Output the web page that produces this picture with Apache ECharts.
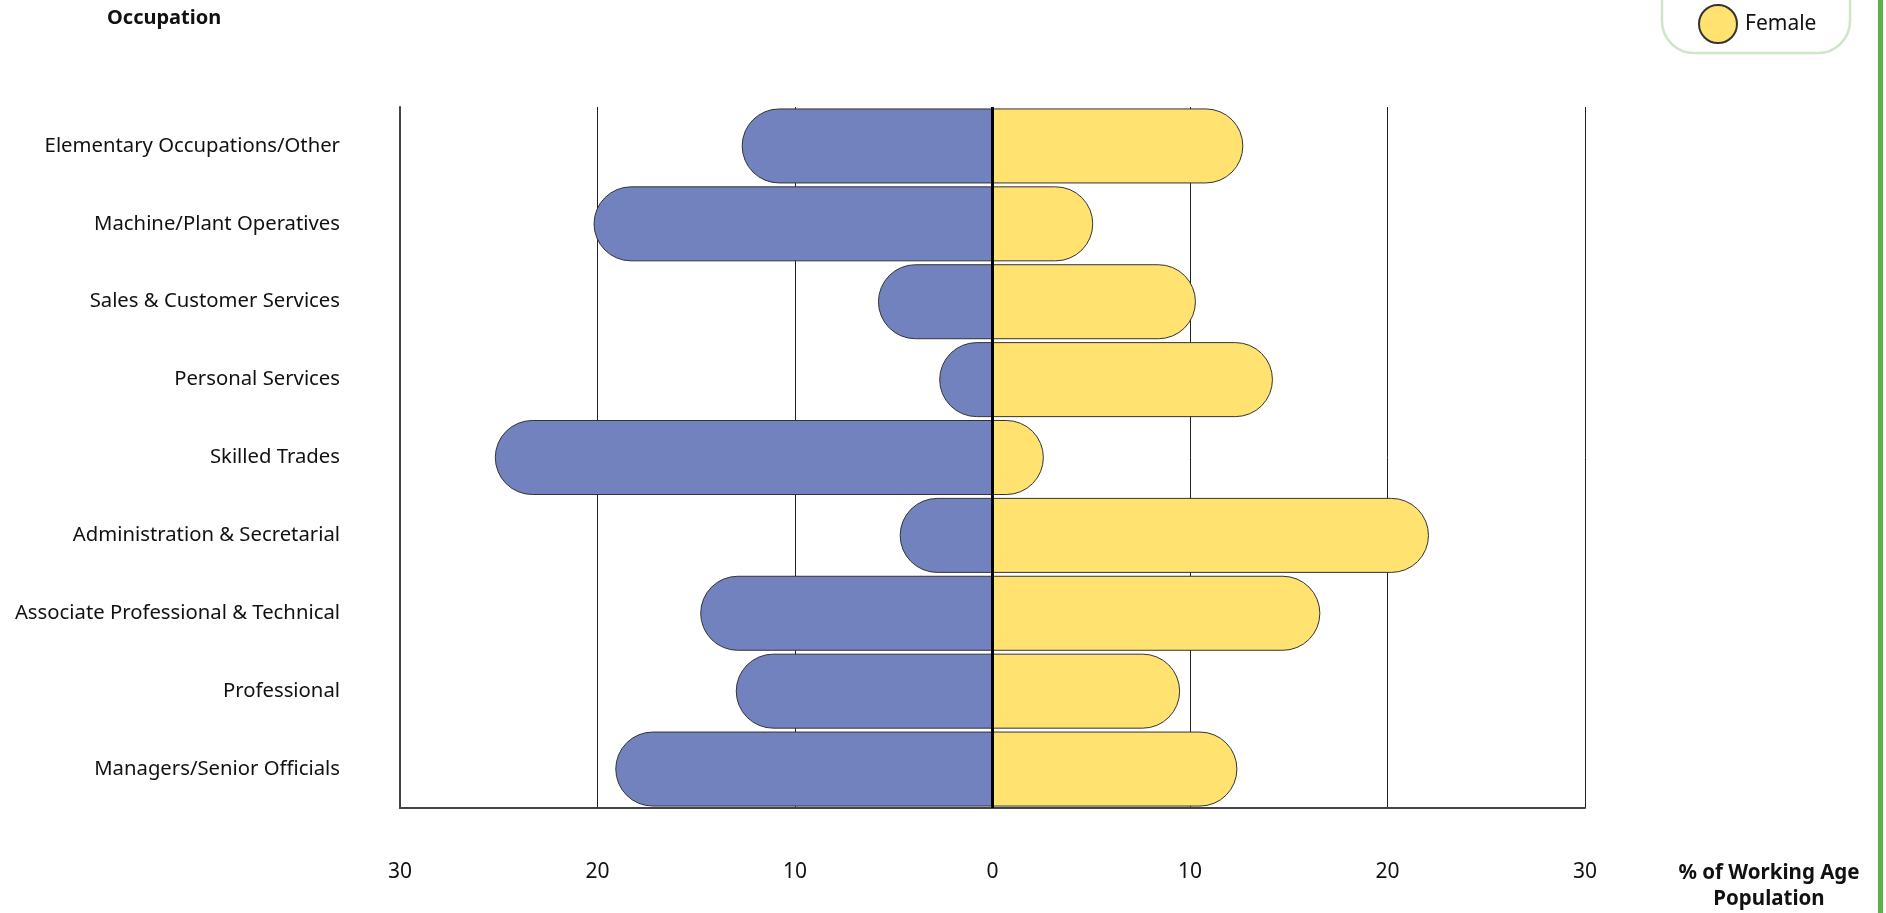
<!DOCTYPE html>
<html>
<head>
<meta charset="utf-8">
<script src="https://cdn.jsdelivr.net/npm/echarts@6/dist/echarts.min.js"></script>
<style>
html,body{margin:0;padding:0;background:#fff;}
#chart{width:1886px;height:913px;}
</style>
</head>
<body>
<div id="chart"></div>
<script>
const categories = [
  'Managers/Senior Officials',
  'Professional',
  'Associate Professional & Technical',
  'Administration & Secretarial',
  'Skilled Trades',
  'Personal Services',
  'Sales & Customer Services',
  'Machine/Plant Operatives',
  'Elementary Occupations/Other'
];
const maleValues = [19.1, 13.0, 14.8, 4.7, 25.2, 2.7, 5.8, 20.2, 12.7];
const femaleValues = [12.4, 9.5, 16.6, 22.1, 2.6, 14.2, 10.3, 5.1, 12.7];
const xTicks = [-30, -20, -10, 0, 10, 20, 30];

const FONT = '"Noto Sans", "Open Sans", sans-serif';
const chart = echarts.init(document.getElementById('chart'), null, {renderer: 'canvas'});
chart.setOption({
  animation: false,
  backgroundColor: '#ffffff',
  grid: {left: 400, right: 301, top: 107, bottom: 105, containLabel: false},
  legend: {
    data: ['Female'],
    left: 1698, top: 4, padding: 0,
    icon: 'circle',
    itemWidth: 38, itemHeight: 38, itemGap: 8,
    textStyle: {fontFamily: FONT, fontSize: 21, color: '#111', padding: [0, 0, 0, 3]},
    selectedMode: false
  },
  graphic: [
    {type: 'rect', shape: {x: 1662, y: -60, width: 188, height: 113, r: 32},
     style: {fill: 'none', stroke: '#cfe4c8', lineWidth: 2.5}, silent: true},
    {type: 'rect', shape: {x: 1878, y: 0, width: 5, height: 913},
     style: {fill: '#5fb04a'}, silent: true},
    {type: 'text', left: 107, top: 8,
     style: {text: 'Occupation', font: 'bold 20px ' + FONT, fill: '#111'}},
    {type: 'text', x: 1769, y: 860,
     style: {text: '% of Working Age\nPopulation', font: 'bold 20.5px ' + FONT, fill: '#111',
             align: 'center', lineHeight: 26}}
  ],
  xAxis: {
    type: 'value', min: -30, max: 30, interval: 10,
    axisLine: {show: true, lineStyle: {color: '#444', width: 2}},
    axisTick: {show: false},
    splitLine: {show: true, lineStyle: {color: '#222', width: 1}},
    axisLabel: {
      margin: 54, fontFamily: FONT, fontSize: 21, color: '#111',
      formatter: v => xTicks.indexOf(v) >= 0 ? String(Math.abs(v)) : ''
    }
  },
  yAxis: {
    type: 'category', data: categories,
    axisLine: {show: true, onZero: false, lineStyle: {color: '#444', width: 2}},
    axisTick: {show: false},
    axisLabel: {margin: 60, fontFamily: FONT, fontSize: 20.3, color: '#111', padding: [0, 0, 3, 0]}
  },
  series: [
    {
      name: 'Male', type: 'bar', barWidth: 75, barGap: '-100%',
      data: maleValues.map(v => -v),
      itemStyle: {color: '#7282bf', borderColor: '#333', borderWidth: 1, borderRadius: [38, 0, 0, 38]},
      z: 2
    },
    {
      name: 'Female', type: 'bar', barWidth: 75, barGap: '-100%',
      data: femaleValues,
      itemStyle: {color: '#ffe270', borderColor: '#333', borderWidth: 1, borderRadius: [0, 38, 38, 0]},
      z: 3,
      markLine: {
        silent: true, symbol: 'none', label: {show: false},
        lineStyle: {color: '#000', width: 3, type: 'solid'},
        data: [{xAxis: 0}]
      }
    }
  ]
});
</script>
</body>
</html>
